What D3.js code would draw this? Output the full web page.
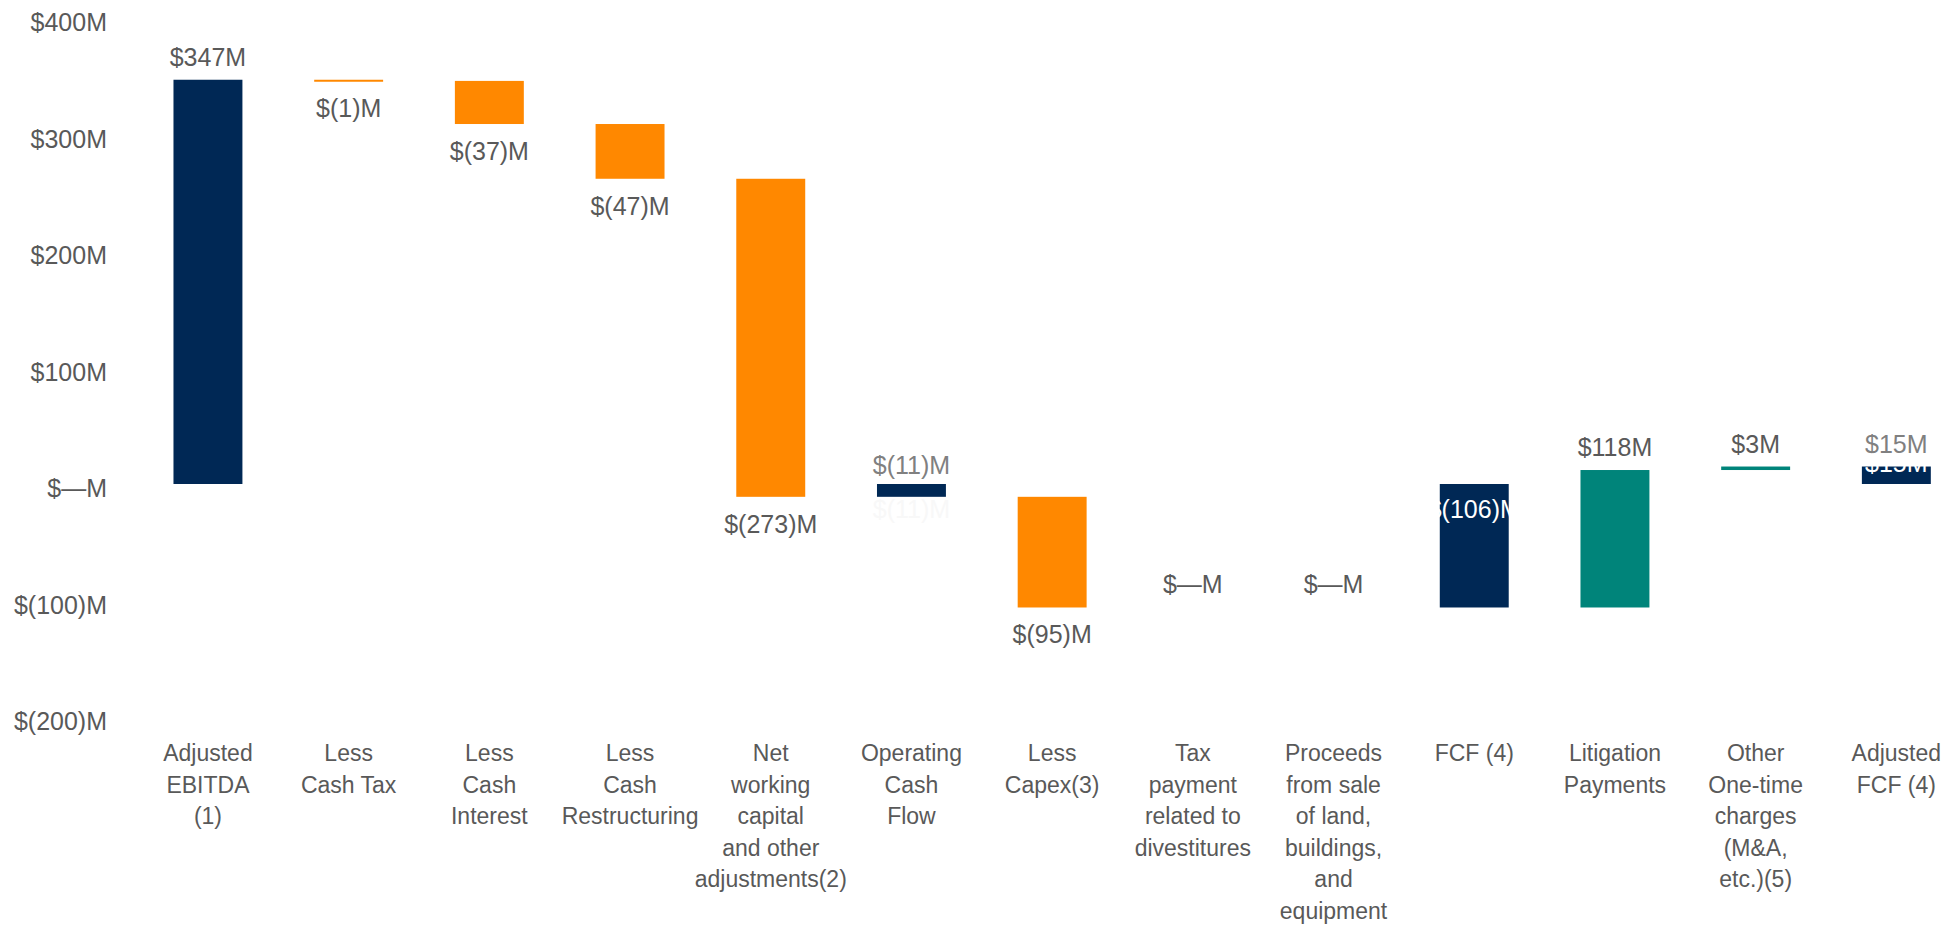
<!DOCTYPE html>
<html lang="en">
<head>
    <meta charset="UTF-8">
    <title>Adjusted EBITDA to Adjusted FCF</title>
    <script src="https://cdnjs.cloudflare.com/ajax/libs/d3/7.8.5/d3.min.js"></script>
    <style>
        body { margin: 0; background: #fff; }
        svg { display: block; font-family: "Liberation Sans", Arial, sans-serif; }
    </style>
</head>
<body>
<svg width="1955" height="927"></svg>

<script>
    // chart data
    const categories = [
        ["Adjusted", "EBITDA", "(1)"],
        ["Less", "Cash Tax"],
        ["Less", "Cash", "Interest"],
        ["Less", "Cash", "Restructuring"],
        ["Net", "working", "capital", "and other", "adjustments(2)"],
        ["Operating", "Cash", "Flow"],
        ["Less", "Capex(3)"],
        ["Tax", "payment", "related to", "divestitures"],
        ["Proceeds", "from sale", "of land,", "buildings,", "and", "equipment"],
        ["FCF (4)"],
        ["Litigation", "Payments"],
        ["Other", "One-time", "charges", "(M&A,", "etc.)(5)"],
        ["Adjusted", "FCF (4)"]
    ];
    // "total" bars start at zero, "change" bars start at the running level
    const kinds = ["total", "change", "change", "change", "change", "total", "change",
                   "change", "change", "total", "change", "change", "total"];
    const values = [347, -1, -37, -47, -273, -11, -95, 0, 0, -106, 118, 3, 15];
    const yTicks = [400, 300, 200, 100, 0, -100, -200];

    const navy = "#002855", orange = "#ff8800", teal = "#00847a";
    const textGray = "#595959", mutedGray = "#808080";
    const mutedLabels = new Set([5, 12]);     // grey outside labels on these totals
    const whiteLabels = new Set([5, 9, 12]);  // white inside labels

    const svg = d3.select("svg");

    const x = d3.scaleBand()
        .domain(d3.range(categories.length))
        .range([137.6, 1966.7])
        .paddingInner(0.51)
        .paddingOuter(0.255);

    const y = d3.scaleLinear().domain([-200, 400]).range([717, 18]);

    const fmt = v => v === 0 ? "$\u2014M" : v < 0 ? "$(" + (-v) + ")M" : "$" + v + "M";

    // waterfall levels
    let level = 0;
    const bars = values.map((v, i) => {
        let start, end;
        if (kinds[i] === "total") { start = 0; end = v; }
        else { start = level; end = level + v; }
        level = end;
        const color = kinds[i] === "total" ? navy : (v < 0 ? orange : teal);
        return { i, v, start, end, color };
    });

    // y axis labels
    svg.append("g")
        .selectAll("text")
        .data(yTicks)
        .join("text")
        .attr("x", 107)
        .attr("y", d => y(d) + 13)
        .attr("text-anchor", "end")
        .attr("font-size", 25)
        .attr("fill", textGray)
        .text(fmt);

    // bars
    svg.append("g")
        .selectAll("rect")
        .data(bars.filter(d => d.v !== 0))
        .join("rect")
        .attr("x", d => x(d.i))
        .attr("width", x.bandwidth())
        .attr("y", d => y(Math.max(d.start, d.end)))
        .attr("height", d => Math.max(2, Math.abs(y(d.start) - y(d.end))))
        .attr("fill", d => d.color);

    // outside labels
    const labels = svg.append("g")
        .attr("text-anchor", "middle")
        .attr("font-size", 25);

    bars.forEach(d => {
        const cx = x(d.i) + x.bandwidth() / 2;
        const top = y(Math.max(d.start, d.end));
        const bottom = y(Math.min(d.start, d.end));
        if (d.i === 9) return; // FCF only has its inside label
        let ty = (d.v >= 0 || kinds[d.i] === "total") ? top - 14 : bottom + 36;
        if (d.i === 5) ty = top - 10;
        labels.append("text")
            .attr("x", cx)
            .attr("y", ty)
            .attr("fill", mutedLabels.has(d.i) ? mutedGray : textGray)
            .text(fmt(d.v));
    });

    // white labels inside bar ends
    bars.filter(d => whiteLabels.has(d.i)).forEach(d => {
        const cx = x(d.i) + x.bandwidth() / 2;
        const ty = d.v < 0 ? y(0) + 34 : y(d.end) + 5;
        labels.append("text")
            .attr("x", cx)
            .attr("y", ty)
            .attr("fill", d.i === 5 ? "#f8f8f8" : "#ffffff")
            .text(fmt(d.v));
    });

    // category labels
    const cat = svg.append("g")
        .attr("text-anchor", "middle")
        .attr("font-size", 23)
        .attr("fill", textGray);

    categories.forEach((lines, i) => {
        const t = cat.append("text")
            .attr("x", x(i) + x.bandwidth() / 2)
            .attr("y", 761);
        lines.forEach((line, k) => {
            t.append("tspan")
                .attr("x", x(i) + x.bandwidth() / 2)
                .attr("dy", k === 0 ? 0 : 31.5)
                .text(line);
        });
    });
</script>
</body>
</html>
